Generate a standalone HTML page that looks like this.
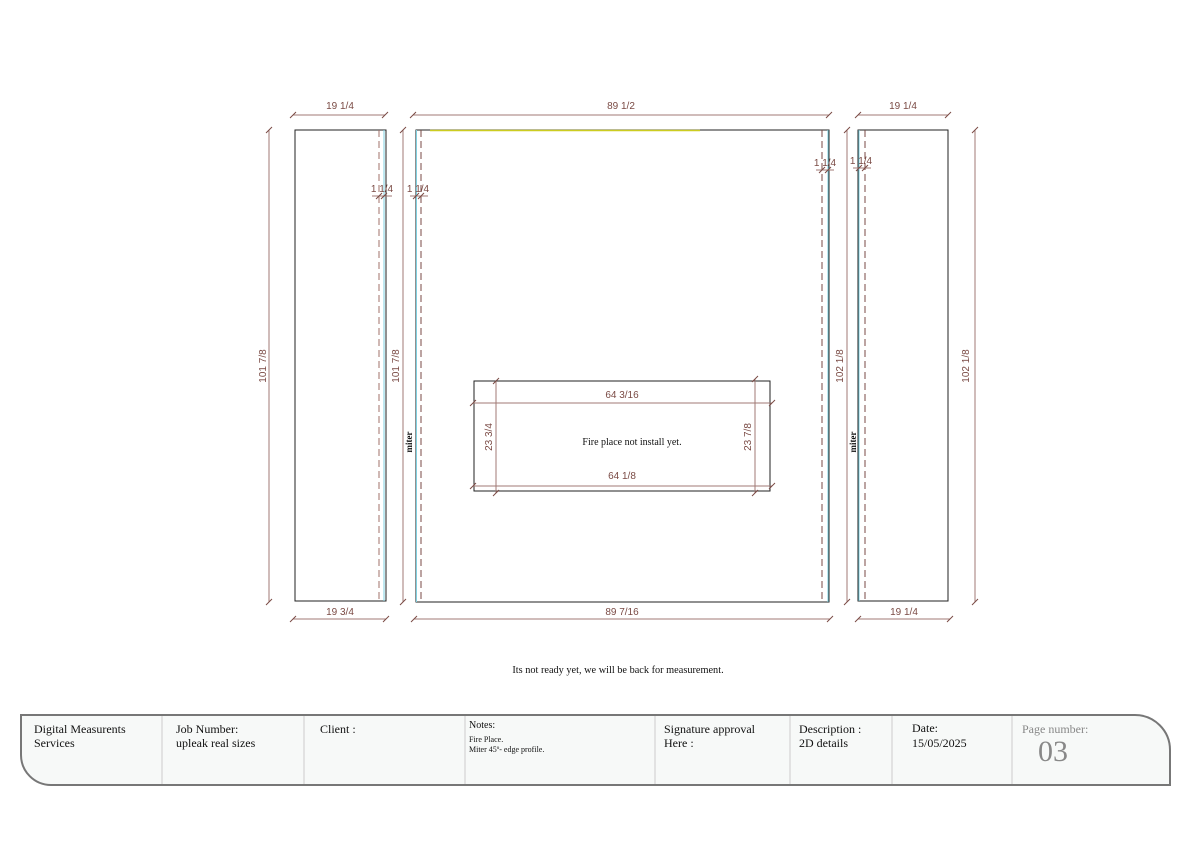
<!DOCTYPE html>
<html><head><meta charset="utf-8"><style>
body{margin:0;background:#fff}
svg{display:block}
.d{font-family:"Liberation Sans",sans-serif;font-size:10px;fill:#7a4a44}
.s{font-family:"Liberation Serif",serif;fill:#111}
</style></head><body>
<svg width="1191" height="842" viewBox="0 0 1191 842" xmlns="http://www.w3.org/2000/svg">
<defs>
<g id="t"><line x1="-3" y1="3" x2="3" y2="-3" stroke="#7a4a44" stroke-width="1"/></g>
</defs>
<g fill="none" stroke-width="1">
<rect x="295" y="130" width="91" height="471" stroke="#222"/>
<line x1="379" y1="130" x2="379" y2="601" stroke="#a0706a" stroke-dasharray="7,4"/>
<line x1="384" y1="130" x2="384" y2="601" stroke="#7fd0e0"/>
<rect x="416" y="130" width="413" height="472" stroke="#222"/>
<line x1="430" y1="130.5" x2="700" y2="130.5" stroke="#cccc20" stroke-width="1.5"/>
<line x1="416.5" y1="130" x2="416.5" y2="602" stroke="#7fd0e0"/>
<line x1="828" y1="130" x2="828" y2="602" stroke="#7fd0e0"/>
<line x1="421" y1="130" x2="421" y2="602" stroke="#7a4a44" stroke-dasharray="7,4"/>
<line x1="822" y1="130" x2="822" y2="602" stroke="#7a4a44" stroke-dasharray="7,4"/>
<rect x="858" y="130" width="90" height="471" stroke="#222"/>
<line x1="859" y1="130" x2="859" y2="601" stroke="#7fd0e0"/>
<line x1="865" y1="130" x2="865" y2="601" stroke="#7a4a44" stroke-dasharray="7,4"/>
<rect x="474" y="381" width="296" height="110" stroke="#222"/>
<g stroke="#a07a74">
<line x1="473" y1="403" x2="772" y2="403"/>
<line x1="473" y1="486" x2="772" y2="486"/>
<line x1="496" y1="381" x2="496" y2="493"/>
<line x1="755" y1="379" x2="755" y2="493"/>
<line x1="293" y1="115" x2="385" y2="115"/>
<line x1="293" y1="619" x2="386" y2="619"/>
<line x1="413" y1="115" x2="829" y2="115"/>
<line x1="414" y1="619" x2="830" y2="619"/>
<line x1="858" y1="115" x2="948" y2="115"/>
<line x1="858" y1="619" x2="950" y2="619"/>
<line x1="269" y1="130" x2="269" y2="602"/>
<line x1="403" y1="130" x2="403" y2="602"/>
<line x1="847" y1="130" x2="847" y2="602"/>
<line x1="975" y1="130" x2="975" y2="602"/>
<line x1="372" y1="196" x2="392" y2="196"/>
<line x1="410" y1="196" x2="428" y2="196"/>
<line x1="816" y1="170" x2="834" y2="170"/>
<line x1="853" y1="168" x2="871" y2="168"/>
</g>
</g>
<g>
<use href="#t" x="293" y="115"/><use href="#t" x="385" y="115"/>
<use href="#t" x="293" y="619"/><use href="#t" x="386" y="619"/>
<use href="#t" x="413" y="115"/><use href="#t" x="829" y="115"/>
<use href="#t" x="414" y="619"/><use href="#t" x="830" y="619"/>
<use href="#t" x="858" y="115"/><use href="#t" x="948" y="115"/>
<use href="#t" x="858" y="619"/><use href="#t" x="950" y="619"/>
<use href="#t" x="269" y="130"/><use href="#t" x="269" y="602"/>
<use href="#t" x="403" y="130"/><use href="#t" x="403" y="602"/>
<use href="#t" x="847" y="130"/><use href="#t" x="847" y="602"/>
<use href="#t" x="975" y="130"/><use href="#t" x="975" y="602"/>
<use href="#t" x="379" y="196"/><use href="#t" x="384" y="196"/>
<use href="#t" x="416" y="196"/><use href="#t" x="421" y="196"/>
<use href="#t" x="822" y="170"/><use href="#t" x="828" y="170"/>
<use href="#t" x="859" y="168"/><use href="#t" x="865" y="168"/>
<use href="#t" x="473" y="403"/><use href="#t" x="772" y="403"/>
<use href="#t" x="473" y="486"/><use href="#t" x="772" y="486"/>
<use href="#t" x="496" y="381"/><use href="#t" x="496" y="493"/>
<use href="#t" x="755" y="379"/><use href="#t" x="755" y="493"/>
</g>
<g class="d" text-anchor="middle">
<text x="340" y="109">19 1/4</text>
<text x="340" y="615">19 3/4</text>
<text x="621" y="109">89 1/2</text>
<text x="622" y="615">89 7/16</text>
<text x="903" y="109">19 1/4</text>
<text x="904" y="615">19 1/4</text>
<text x="382" y="192">1 1/4</text>
<text x="418" y="192">1 1/4</text>
<text x="825" y="166">1 1/4</text>
<text x="861" y="164">1 1/4</text>
<text x="622" y="398">64 3/16</text>
<text x="622" y="479">64 1/8</text>
<text transform="translate(266,366) rotate(-90)">101 7/8</text>
<text transform="translate(399,366) rotate(-90)">101 7/8</text>
<text transform="translate(843,366) rotate(-90)">102 1/8</text>
<text transform="translate(969,366) rotate(-90)">102 1/8</text>
<text transform="translate(492,437) rotate(-90)">23 3/4</text>
<text transform="translate(751,437) rotate(-90)">23 7/8</text>
</g>
<g class="s" font-size="10" text-anchor="middle">
<text x="632" y="445">Fire place not install yet.</text>
<text transform="translate(412,442) rotate(-90)" font-weight="bold" font-size="9">miter</text>
<text transform="translate(856,442) rotate(-90)" font-weight="bold" font-size="9">miter</text>
<text x="618" y="673" font-size="10.3">Its not ready yet, we will be back for measurement.</text>
</g>
<path d="M21 715 H1135 A35 35 0 0 1 1170 750 V785 H51 A30 30 0 0 1 21 755 Z" fill="#f7f9f8" stroke="#777" stroke-width="2"/>
<g stroke="#ccc"><line x1="162" y1="716" x2="162" y2="784"/><line x1="304" y1="716" x2="304" y2="784"/><line x1="465" y1="716" x2="465" y2="784"/><line x1="655" y1="716" x2="655" y2="784"/><line x1="790" y1="716" x2="790" y2="784"/><line x1="892" y1="716" x2="892" y2="784"/><line x1="1012" y1="716" x2="1012" y2="784"/></g>
<g class="s" font-size="12">
<text x="34" y="733">Digital Measurents</text><text x="34" y="747">Services</text>
<text x="176" y="733">Job Number:</text><text x="176" y="747">upleak real sizes</text>
<text x="320" y="733">Client :</text>
<text x="469" y="728" font-size="10">Notes:</text>
<text x="469" y="742" font-size="8">Fire Place.</text>
<text x="469" y="752" font-size="8">Miter 45º- edge profile.</text>
<text x="664" y="733">Signature approval</text><text x="664" y="747">Here :</text>
<text x="799" y="733">Description :</text><text x="799" y="747">2D details</text>
<text x="912" y="732">Date:</text><text x="912" y="747">15/05/2025</text>
<text x="1022" y="733" style="fill:#888">Page number:</text>
<text x="1038" y="761" font-size="30" style="fill:#888">03</text>
</g>
</svg>
</body></html>
